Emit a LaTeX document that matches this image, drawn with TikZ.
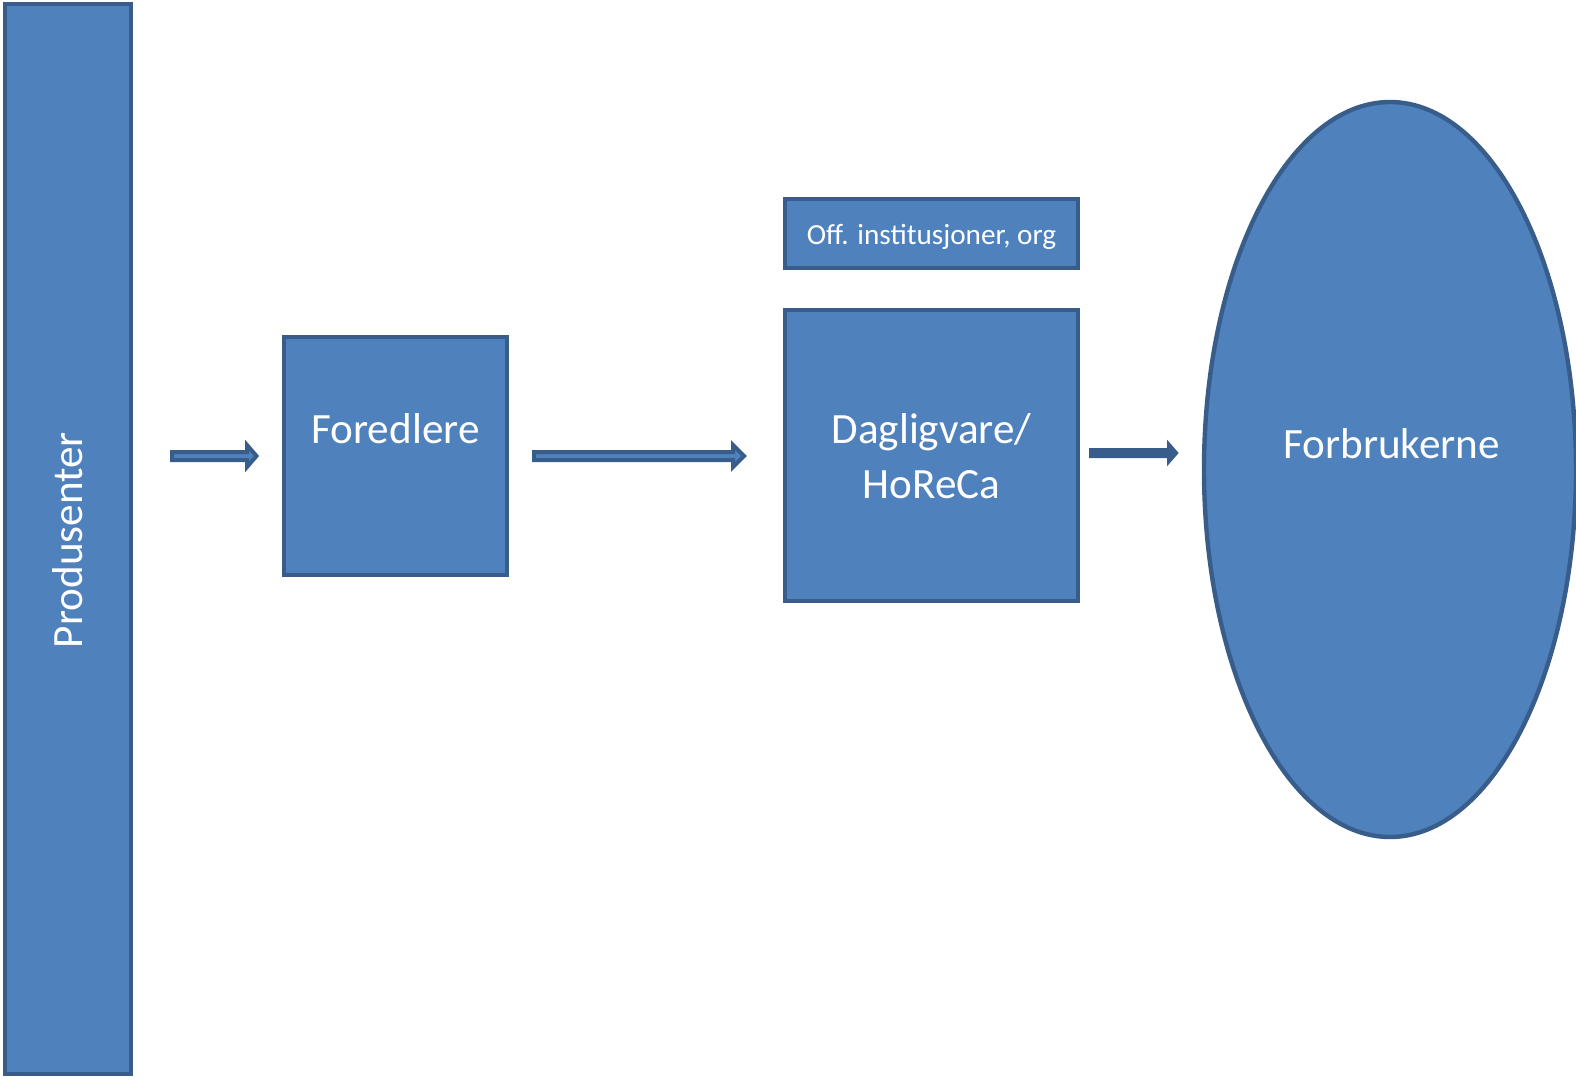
\documentclass[tikz,border=0pt]{standalone}
\usepackage{fontspec}
\setmainfont{Carlito}
\usetikzlibrary{shapes.geometric}
\definecolor{boxfill}{HTML}{4F81BD}
\definecolor{boxline}{HTML}{385D8A}
\tikzset{
  shapebox/.style={draw=boxline, fill=boxfill, line width=2.2pt, inner sep=0pt, outer sep=0pt},
  txt/.style={text=white, inner sep=0pt, font=\fontsize{21.6}{27.5}\selectfont},
  smalltxt/.style={text=white, inner sep=0pt, font=\fontsize{14.6}{17}\selectfont},
  blockarrow/.style={draw=boxline, fill=boxfill, line width=2pt, line join=miter, miter limit=10},
  darkarrow/.style={draw=boxline, fill=boxline, line width=2pt, line join=miter, miter limit=10}
}
\begin{document}
\begin{tikzpicture}[x=0.5pt,y=-0.5pt]
\useasboundingbox (0,0) rectangle (1576,1081);
% shapes
\node[shapebox, minimum width=63pt, minimum height=535pt] (prod) at (68,539) {};
\node[shapebox, minimum width=111.5pt, minimum height=119pt] (fored) at (395.5,456) {};
\node[shapebox, minimum width=146.5pt, minimum height=34.5pt] (off) at (931.5,233.5) {};
\node[shapebox, minimum width=146.5pt, minimum height=145.5pt] (dagl) at (931.5,455.5) {};
\node[shapebox, ellipse, minimum width=186pt, minimum height=367.5pt] (forb) at (1390,469.5) {};
% texts
\node[txt, anchor=base, rotate=90] (prodtxt) at (83,540) {Produsenter};
\node[txt, anchor=base] (foredtxt) at (395.5,443) {Foredlere};
\node[smalltxt, anchor=base] (offtxt) at (931.5,244) {Off. institusjoner, org};
\node[txt, anchor=base] (dagltxt) at (931.5,443) {\begin{tabular}[t]{@{}c@{}}Dagligvare/\\HoReCa\end{tabular}};
\node[txt, anchor=base] (forbtxt) at (1391.5,458) {Forbrukerne};
% arrow anchors
\coordinate (a1) at (172,456);
\coordinate (a2) at (534,456);
\coordinate (a3) at (1091,453);
% block arrows
\draw[blockarrow] (a1) ++(0,-4) -- ++(75,0) -- ++(0,-7) -- ++(9.5,11) -- ++(-9.5,11) -- ++(0,-7) -- ++(-75,0) -- cycle;
\draw[blockarrow] (a2) ++(0,-4) -- ++(199,0) -- ++(0,-7) -- ++(11,11) -- ++(-11,11) -- ++(0,-7) -- ++(-199,0) -- cycle;
\draw[darkarrow] (a3) ++(0,-3) -- ++(78,0) -- ++(0,-5) -- ++(7,8) -- ++(-7,8) -- ++(0,-5) -- ++(-78,0) -- cycle;
\end{tikzpicture}
\end{document}
